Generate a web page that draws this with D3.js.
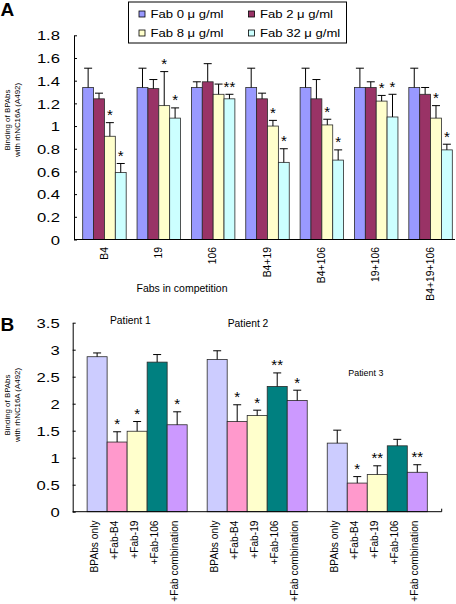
<!DOCTYPE html>
<html><head><meta charset="utf-8">
<script src="https://cdn.jsdelivr.net/npm/d3@7"></script>
<style>
body{margin:0;background:#fff}
svg{display:block}
text{font-family:"Liberation Sans",Arial,Helvetica,sans-serif;fill:#000}
</style>
</head><body>
<svg id="chart" width="456" height="604"></svg>
<script>
// ---------- Panel A data ----------
const fabsA = ["B4","19","106","B4+19","B4+106","19+106","B4+19+106"];
const seriesA = ["Fab 0 μ g/ml","Fab 2 μ g/ml","Fab 8 μ g/ml","Fab 32 μ g/ml"];
const fab0Mean  = [1.34,1.34,1.34,1.34,1.34,1.34,1.34];
const fab0Sd    = [0.17,0.17,0.05,0.17,0.17,0.17,0.17];
const fab2Mean  = [1.24,1.33,1.39,1.24,1.24,1.34,1.28];
const fab2Sd    = [0.05,0.08,0.16,0.05,0.17,0.05,0.06];
const fab8Mean  = [0.91,1.18,1.28,1.00,1.01,1.22,1.07];
const fab8Sd    = [0.12,0.30,0.09,0.05,0.05,0.05,0.11];
const fab32Mean = [0.59,1.07,1.24,0.68,0.70,1.08,0.79];
const fab32Sd   = [0.08,0.09,0.04,0.12,0.09,0.20,0.05];
const fab8Stars  = ["*","*","","*","*","*","*"];
const fab32Stars = ["*","*","**","*","*","*","*"];
const yTicksA = [0,0.2,0.4,0.6,0.8,1,1.2,1.4,1.6,1.8];

// ---------- Panel B data ----------
const patients = ["Patient 1","Patient 2","Patient 3"];
const treatments = ["BPAbs only","+Fab-B4","+Fab-19","+Fab-106","+Fab combination"];
const p1Mean = [2.87,1.29,1.49,2.77,1.61];
const p1Sd   = [0.07,0.19,0.18,0.14,0.24];
const p2Mean = [2.82,1.67,1.78,2.32,2.06];
const p2Sd   = [0.16,0.31,0.10,0.25,0.19];
const p3Mean = [1.27,0.53,0.69,1.22,0.73];
const p3Sd   = [0.24,0.12,0.16,0.12,0.14];
const p1Stars = ["","*","*","","*"];
const p2Stars = ["","*","*","**","*"];
const p3Stars = ["","*","**","","**"];
const yTicksB = [0,0.5,1,1.5,2,2.5,3,3.5];

const colorsA = ["#9999FF","#993366","#FFFFCC","#CCFFFF"];
const colorsB = ["#CCCCFF","#FF99CC","#FFFFCC","#008080","#CC99FF"];

const svg = d3.select("#chart");

// ---------- helpers ----------
function drawYAxis(g, scale, ticks, labelOffset){
  const ax = d3.axisLeft(scale).tickValues(ticks).tickSize(-3).tickSizeOuter(0)
    .tickFormat(d => String(d));
  g.call(ax);
  g.select(".domain").attr("stroke","#000");
  g.selectAll(".tick line").attr("stroke","#000");
  g.selectAll(".tick text")
    .attr("x",null).attr("dy","0.36em")
    .attr("transform",`translate(${labelOffset},0) scale(1.28,1)`)
    .attr("font-size",13).attr("fill","#000").attr("text-anchor","end");
}
function drawBars(g, rows, x, xi, y){
  const cap = 8;
  const gg = g.selectAll("g.bar").data(rows).join("g").attr("class","bar");
  gg.append("rect")
    .attr("x", d => x(d.grp) + xi(d.key))
    .attr("y", d => y(d.mean))
    .attr("width", xi.bandwidth())
    .attr("height", d => y(0) - y(d.mean))
    .attr("fill", d => d.color)
    .attr("stroke","#2a2a2a").attr("stroke-width",0.8);
  const cx = d => x(d.grp) + xi(d.key) + xi.bandwidth()/2;
  gg.append("line")
    .attr("x1",cx).attr("x2",cx)
    .attr("y1",d => y(d.mean)).attr("y2",d => y(d.mean + d.sd))
    .attr("stroke","#000").attr("stroke-width",1);
  gg.append("line")
    .attr("x1",d => cx(d)-cap/2).attr("x2",d => cx(d)+cap/2)
    .attr("y1",d => y(d.mean + d.sd)).attr("y2",d => y(d.mean + d.sd))
    .attr("stroke","#000").attr("stroke-width",1);
  gg.filter(d => d.star).append("text")
    .attr("x",cx).attr("y",d => y(d.mean + d.sd) - 2.5)
    .attr("text-anchor","middle").attr("font-size",15)
    .text(d => d.star);
}
function yTitle(g, cx, cy){
  const t = g.append("g").attr("transform",`translate(${cx},${cy}) rotate(-90)`);
  t.append("text").attr("x",0).attr("y",0).attr("text-anchor","middle")
    .attr("font-size",7.9).text("Binding of BPAbs");
  t.append("text").attr("x",0).attr("y",10.8).attr("text-anchor","middle")
    .attr("font-size",7.9).text("with rhNC16A (A492)");
}

// ---------- Panel A ----------
const gA = svg.append("g");
const xA = d3.scaleBand().domain(fabsA).range([74,461]).paddingInner(0.2).paddingOuter(0.16);
const xAi = d3.scaleBand().domain(seriesA).range([0,xA.bandwidth()]);
const yA = d3.scaleLinear().domain([0,1.8]).range([239.5,35.3]);

const meansA = [fab0Mean,fab2Mean,fab8Mean,fab32Mean];
const sdsA = [fab0Sd,fab2Sd,fab8Sd,fab32Sd];
const starsA = [fabsA.map(()=>""),fabsA.map(()=>""),fab8Stars,fab32Stars];
const rowsA = [];
fabsA.forEach((f,i) => seriesA.forEach((s,j) => rowsA.push({
  grp:f, key:s, mean:meansA[j][i], sd:sdsA[j][i], star:starsA[j][i], color:colorsA[j]})));
drawBars(gA.append("g"), rowsA, xA, xAi, yA);

drawYAxis(gA.append("g").attr("transform","translate(74,0)"), yA, yTicksA, -14);
gA.append("line").attr("x1",74).attr("x2",455).attr("y1",yA(0)).attr("y2",yA(0)).attr("stroke","#000");

gA.selectAll("text.xl").data(fabsA).join("text").attr("class","xl")
  .attr("transform", d => `translate(${xA(d)+xA.bandwidth()/2},247) rotate(-90)`)
  .attr("text-anchor","end").attr("dy","0.3em").attr("font-size",10.4).text(d => d);
gA.append("text").attr("x",182).attr("y",292).attr("text-anchor","middle")
  .attr("font-size",10.5).text("Fabs in competition");
yTitle(gA, 9.5, 120);
gA.append("text").attr("x",0.5).attr("y",16).attr("font-size",19).attr("font-weight","bold").text("A");

// legend
const lg = gA.append("g");
lg.append("rect").attr("x",128.5).attr("y",2).attr("width",218).attr("height",41)
  .attr("fill","#fff").attr("stroke","#000").attr("stroke-width",1);
const legPos = [[139,11],[248.5,11],[139,30],[248.5,30]];
seriesA.forEach((s,j) => {
  const [lx,ly] = legPos[j];
  lg.append("rect").attr("x",lx).attr("y",ly).attr("width",6).attr("height",6)
    .attr("fill",colorsA[j]).attr("stroke","#000").attr("stroke-width",0.8);
  lg.append("text").attr("transform",`translate(${lx+11.5},${ly+6.5}) scale(1.27,1)`)
    .attr("font-size",10.3).text(s);
});

// ---------- Panel B ----------
const gB = svg.append("g");
const xB = d3.scaleBand().domain(patients).range([72.7,441.7]).paddingInner(1/6).paddingOuter(0.12);
const xBi = d3.scaleBand().domain(treatments).range([0,xB.bandwidth()]);
const yB = d3.scaleLinear().domain([0,3.5]).range([511.7,322.7]);

const meansB = [p1Mean,p2Mean,p3Mean];
const sdsB = [p1Sd,p2Sd,p3Sd];
const starsB = [p1Stars,p2Stars,p3Stars];
const rowsB = [];
patients.forEach((p,i) => treatments.forEach((t,j) => rowsB.push({
  grp:p, key:t, mean:meansB[i][j], sd:sdsB[i][j], star:starsB[i][j], color:colorsB[j]})));
drawBars(gB.append("g"), rowsB, xB, xBi, yB);

drawYAxis(gB.append("g").attr("transform","translate(72.7,0)"), yB, yTicksB, -13);
gB.append("line").attr("x1",72.7).attr("x2",441.7).attr("y1",yB(0)).attr("y2",yB(0)).attr("stroke","#000");
gB.append("line").attr("x1",441.7).attr("x2",441.7).attr("y1",yB(0)).attr("y2",yB(0)-3).attr("stroke","#000");

const labB = [];
patients.forEach(p => treatments.forEach(t => labB.push({p,t})));
gB.selectAll("text.xl").data(labB).join("text").attr("class","xl")
  .attr("transform", d => `translate(${xB(d.p)+xBi(d.t)+xBi.bandwidth()/2},520.5) rotate(-90)`)
  .attr("text-anchor","end").attr("dy","0.05em").attr("font-size",10.2).text(d => d.t);

const patLab = [[110,324,10.3],[227.7,326.7,10.3],[348.3,375.7,8.9]];
patients.forEach((p,i) => gB.append("text").attr("x",patLab[i][0]).attr("y",patLab[i][1])
  .attr("font-size",patLab[i][2]).text(p));

yTitle(gB, 9.5, 405);
gB.append("text").attr("x",0.5).attr("y",331).attr("font-size",19).attr("font-weight","bold").text("B");
</script>
</body></html>
